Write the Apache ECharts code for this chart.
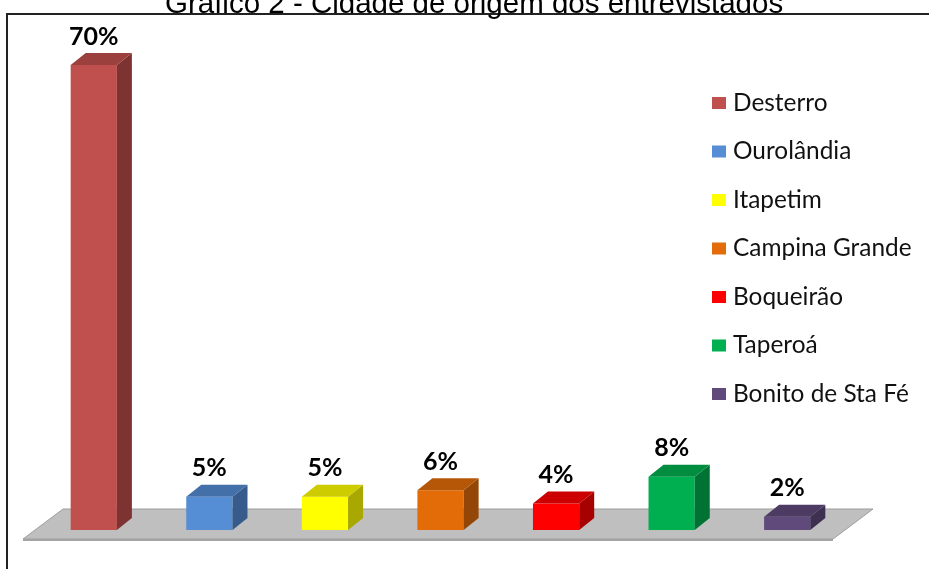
<!DOCTYPE html>
<html>
<head>
<meta charset="utf-8">
<script src="https://cdn.jsdelivr.net/npm/echarts@6/dist/echarts.min.js"></script>
<style>
html, body { margin: 0; background: #fff; }
#chart { width: 929px; height: 569px; }
</style>
</head>
<body>
<div id="chart"></div>
<script>
const cities = ['Desterro', 'Ourolândia', 'Itapetim', 'Campina Grande', 'Boqueirão', 'Taperoá', 'Bonito de Sta Fé'];
const percents = [70, 5, 5, 6, 4, 8, 2];
const frontColors = ['#C0504D', '#558ED5', '#FFFF00', '#E36C09', '#FF0000', '#00B050', '#604A7B'];
const topColors = ['#9c403d', '#4470aa', '#cccc00', '#b55707', '#cc0000', '#008d40', '#4d3b63'];
const sideColors = ['#7d3331', '#375b8a', '#a8a800', '#934606', '#a60000', '#007234', '#3e3050'];

// depth of the fake 3d boxes
const DX = 15, DY = 12;

function renderFloor(params, api) {
    const cs = params.coordSys;
    const yb = cs.y + cs.height;
    const x0 = cs.x, x1 = cs.x + cs.width;
    return {
        type: 'group',
        children: [
            {
                type: 'polygon',
                shape: { points: [[x0 - 13, yb + 9], [x1 - 12, yb + 9], [x1 + 28, yb - 21], [x0 + 27, yb - 21]] },
                style: { fill: '#bfbfbf', stroke: '#9d9d9d', lineWidth: 1 }
            },
            {
                type: 'line',
                shape: { x1: x0 - 13, y1: yb + 10, x2: x1 - 12, y2: yb + 10 },
                style: { stroke: '#a3a3a3', lineWidth: 2 }
            }
        ]
    };
}

function makeBoxRenderer(idx) {
    return function (params, api) {
        const v = api.value(1);
        const top = api.coord([api.value(0), v]);
        const base = api.coord([api.value(0), 0]);
        const w = api.size([1, 0])[0] * 0.4;
        const x0 = top[0] - w / 2, x1 = top[0] + w / 2;
        const yT = top[1], yB = base[1];
        return {
            type: 'group',
            children: [
                { type: 'rect', shape: { x: x0, y: yT, width: w, height: yB - yT }, style: { fill: frontColors[idx] } },
                { type: 'polygon', shape: { points: [[x1, yB], [x1 + DX, yB - DY], [x1 + DX, yT - DY], [x1, yT]] }, style: { fill: sideColors[idx] } },
                { type: 'polygon', shape: { points: [[x0, yT], [x0 + DX, yT - DY], [x1 + DX, yT - DY], [x1, yT]] }, style: { fill: topColors[idx] } },
                {
                    type: 'text',
                    style: {
                        text: v + '%', x: top[0], y: yT - DY - 4,
                        align: 'center', verticalAlign: 'bottom',
                        font: 'bold 25px Lato', fill: '#000'
                    }
                }
            ]
        };
    };
}

const series = [{
    name: 'piso',
    type: 'custom',
    renderItem: renderFloor,
    data: [[0, 0]],
    silent: true,
    z: 1
}];
cities.forEach(function (c, i) {
    series.push({
        name: c,
        type: 'custom',
        renderItem: makeBoxRenderer(i),
        itemStyle: { color: frontColors[i] },
        encode: { x: 0, y: 1 },
        data: [[i, percents[i]]],
        z: 2
    });
});

const chart = echarts.init(document.getElementById('chart'));
chart.setOption({
    animation: false,
    title: {
        text: 'Gráfico 2 - Cidade de origem dos entrevistados',
        left: 160,
        top: -15,
        textStyle: { fontFamily: 'Liberation Sans', fontSize: 29.5, fontWeight: 'normal', color: '#000' }
    },
    graphic: [{
        type: 'rect',
        shape: { x: 7, y: 14, width: 1000, height: 700 },
        style: { fill: 'none', stroke: '#222', lineWidth: 2 },
        z: 0
    }],
    legend: {
        data: cities,
        orient: 'vertical',
        left: 707,
        top: 86,
        icon: 'rect',
        itemWidth: 14,
        itemHeight: 12,
        itemGap: 24.5,
        textStyle: { fontFamily: 'Lato', fontSize: 24.4, color: '#111', lineHeight: 24, padding: [0, 0, 0, 2] }
    },
    grid: { left: 36, right: 84, top: 65, bottom: 39 },
    xAxis: { type: 'category', data: cities, show: false },
    yAxis: { type: 'value', min: 0, max: 70, show: false },
    series: series
});
</script>
</body>
</html>
